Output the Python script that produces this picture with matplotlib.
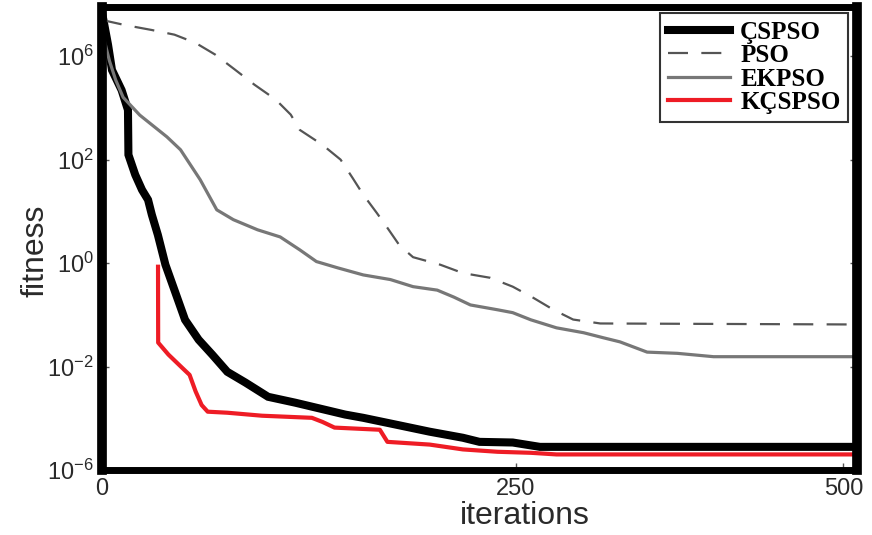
import matplotlib.pyplot as plt

# values
pso_it = [0, 15, 33, 48, 62, 75, 88, 101, 115, 125, 131, 146, 158, 166, 173, 182,
          189, 197, 206, 224, 239, 257, 272, 286, 299, 312, 330, 500]
pso_fit = [5.0e4, 4.0e4, 3.2e4, 2.6e4, 1.8e4, 1.07e4, 5.5e3, 2.8e3, 1.45e3, 740, 375,
           193, 100, 44, 21, 9.3, 4.8, 2.2, 1.3, 0.93, 0.64, 0.52, 0.35, 0.21, 0.125,
           0.081, 0.068, 0.065]

ekpso_it = [0, 5, 9, 14, 25, 43, 52, 65, 76, 87, 103, 118, 131, 142, 156, 173, 191, 206,
            222, 233, 244, 262, 272, 284, 301, 319, 332, 343, 361, 381, 405, 500]
ekpso_fit = [3.0e4, 8.0e3, 3.5e3, 1.6e3, 725, 275, 155, 41, 10.7, 6.9, 4.4, 3.2, 1.8,
             1.07, 0.81, 0.59, 0.48, 0.35, 0.30, 0.22, 0.155, 0.125, 0.11, 0.080, 0.056,
             0.045, 0.036, 0.030, 0.019, 0.018, 0.0155, 0.0155]

cspso_it = [0, 4, 6.6, 13, 17.2, 17.5, 22, 26.5, 30.5, 33, 37, 42, 48, 55, 64, 73, 83,
            95, 110, 128, 146, 161, 173, 195, 217, 239, 250, 272, 290, 500]
cspso_fit = [7e4, 1.66e4, 5.4e3, 2.2e3, 910, 124, 51, 26, 16.7, 8.6, 3.5, 0.93, 0.30,
             0.080, 0.033, 0.017, 0.0079, 0.0049, 0.0026, 0.0020, 0.0015, 0.00118,
             0.00102, 7.5e-4, 5.5e-4, 4.2e-4, 3.5e-4, 3.4e-4, 2.8e-4, 2.8e-4]

kcspso_it = [37.1, 37.2, 44, 53, 58, 62, 66, 70, 83, 106, 139, 146, 154, 184, 189,
             217, 239, 262, 284, 301, 500]
kcspso_fit = [0.85, 0.029, 0.017, 0.0095, 0.0069, 0.0033, 0.0018, 0.00134, 0.00128,
              0.00112, 0.00102, 8.5e-4, 6.6e-4, 6.0e-4, 3.5e-4, 3.1e-4, 2.5e-4,
              2.25e-4, 2.15e-4, 2.0e-4, 2.0e-4]

# tick positions/labels as they appear in the picture
y_ticks = [1e-4, 1e-2, 1e0, 1e2, 1e4]
y_labels = ['-6', '-2', '0', '2', '6']
x_ticks = [0, 274, 491]
x_labels = ['0', '250', '500']

fig = plt.figure(figsize=(8.72, 5.35), dpi=100)
ax = fig.add_axes([102 / 872, 1 - 470 / 535, 755 / 872, 463 / 535])

ax.plot(cspso_it, cspso_fit, color='black', lw=5.8, label='ÇSPSO',
        solid_joinstyle='miter')
ax.plot(pso_it, pso_fit, color='#555555', lw=1.6, dashes=(9, 6), label='PSO')
ax.plot(ekpso_it, ekpso_fit, color='#777777', lw=2.3, label='EKPSO')
ax.plot(kcspso_it, kcspso_fit, color='#ee1c25', lw=3.0, label='KÇSPSO')

ax.set_yscale('log')
ax.set_xlim(0, 500)
ax.set_ylim(1e-4, 10**4.95)
ax.set_yticks(y_ticks)
ax.set_yticklabels([r'$\mathregular{10^{%s}}$' % s for s in y_labels])
ax.yaxis.set_minor_locator(plt.NullLocator())
ax.set_xticks(x_ticks)
ax.set_xticklabels(x_labels)

for lab in ax.get_xticklabels() + ax.get_yticklabels():
    lab.set_fontfamily('Liberation Sans')
    lab.set_fontsize(17)
    lab.set_color('#2a2a2a')
ax.tick_params(axis='both', direction='in', length=5, width=1, color='#555555', pad=6)
ax.tick_params(axis='y', right=True)

for side in ['left', 'right']:
    ax.spines[side].set_linewidth(7)
for side in ['top', 'bottom']:
    ax.spines[side].set_linewidth(5)

ax.set_xlabel('iterations', family='Liberation Sans', fontsize=23, color='#2a2a2a')
ax.xaxis.set_label_coords(423 / 755, -0.068)
ax.set_ylabel('fitness', family='Liberation Sans', fontsize=23, color='#2a2a2a')
ax.yaxis.set_label_coords(-52 / 755, 0.474)

leg = ax.legend(loc='upper right', bbox_to_anchor=(848 / 872, 1 - 13 / 535),
                bbox_transform=fig.transFigure, fancybox=False, framealpha=1,
                edgecolor='#333333', handlelength=2.5, handletextpad=0.4,
                labelspacing=0.02, borderpad=0.3, borderaxespad=0,
                prop=dict(family='Liberation Serif', weight='bold', size=18))
leg.get_frame().set_linewidth(1.5)

plt.savefig('out.png', dpi=100)
